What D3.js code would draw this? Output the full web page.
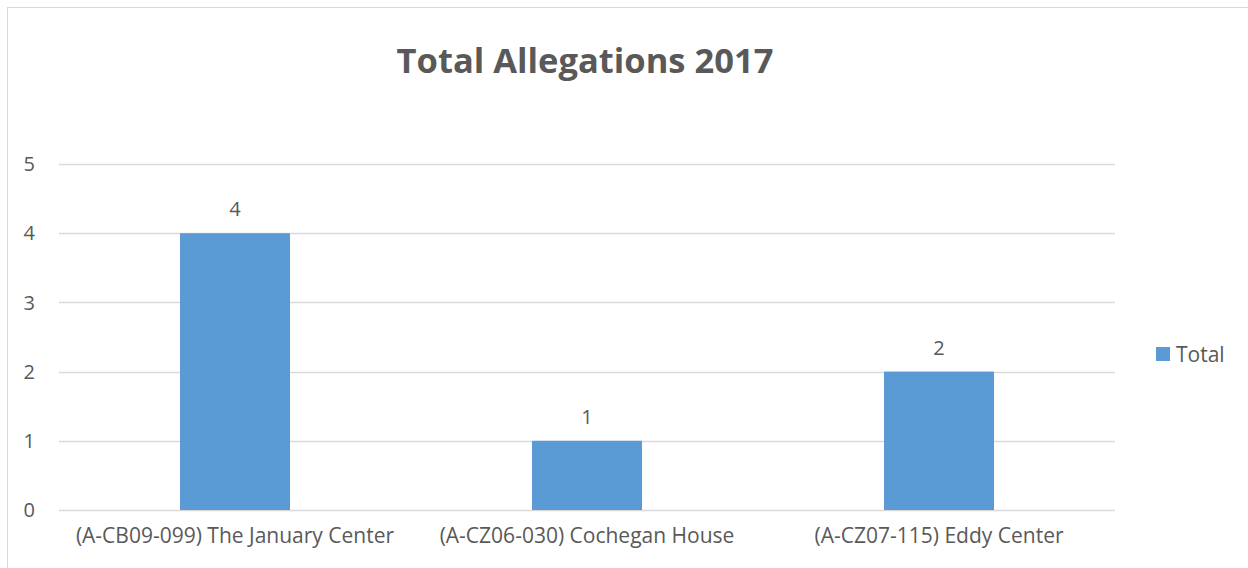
<!DOCTYPE html>
<html>
<head>
<meta charset="utf-8">
<script src="https://cdn.jsdelivr.net/npm/d3@7"></script>
<style>
  html, body { margin: 0; padding: 0; background: #fff; }
  svg { display: block; font-family: "Open Sans", sans-serif; }
</style>
</head>
<body>
<svg id="chart" width="1248" height="568"></svg>
<script>
const categories = [
  "(A-CB09-099) The January Center",
  "(A-CZ06-030) Cochegan House",
  "(A-CZ07-115) Eddy Center",
];
const totals = [4, 1, 2];
const yTicks = [0, 1, 2, 3, 4, 5];
const seriesName = "Total";
const chartTitle = "Total Allegations 2017";

const barColor = "#5b9bd5";
const textColor = "#595959";
const gridColor = "#d9d9d9";

const svg = d3.select("#chart");
const margin = { top: 164, right: 133, bottom: 58, left: 59 };
const width = 1248 - margin.left - margin.right;
const height = 568 - margin.top - margin.bottom;

// chart frame (only top/left edges visible in the crop)
svg.append("rect")
  .attr("x", 7.5).attr("y", 7.5)
  .attr("width", 1260).attr("height", 580)
  .attr("fill", "none")
  .attr("stroke", gridColor)
  .attr("stroke-width", 1);

svg.append("text")
  .attr("x", 585)
  .attr("y", 73)
  .attr("text-anchor", "middle")
  .attr("font-size", "34.5px")
  .attr("font-weight", "bold")
  .attr("fill", textColor)
  .text(chartTitle);

const g = svg.append("g")
  .attr("transform", `translate(${margin.left},${margin.top})`);

const x = d3.scaleBand().domain(categories).range([0, width]).padding(0);
const y = d3.scaleLinear().domain([0, 5]).range([height, 0]);
const barW = x.bandwidth() * 0.3125;

// gridlines
g.selectAll("line.grid")
  .data(yTicks)
  .enter()
  .append("line")
  .attr("class", "grid")
  .attr("x1", 0)
  .attr("x2", width)
  .attr("y1", (d) => Math.round(y(d)) + 0.5)
  .attr("y2", (d) => Math.round(y(d)) + 0.5)
  .attr("stroke", gridColor)
  .attr("stroke-width", 1.5);

// y tick labels
g.selectAll("text.ytick")
  .data(yTicks)
  .enter()
  .append("text")
  .attr("class", "ytick")
  .attr("x", -24)
  .attr("y", (d) => y(d))
  .attr("dy", "0.36em")
  .attr("text-anchor", "end")
  .attr("font-size", "20px")
  .attr("fill", textColor)
  .text((d) => d);

// bars
g.selectAll("rect.bar")
  .data(totals)
  .enter()
  .append("rect")
  .attr("class", "bar")
  .attr("x", (d, i) => x(categories[i]) + (x.bandwidth() - barW) / 2)
  .attr("y", (d) => y(d))
  .attr("width", barW)
  .attr("height", (d) => y(0) - y(d))
  .attr("fill", barColor);

// data labels
g.selectAll("text.value")
  .data(totals)
  .enter()
  .append("text")
  .attr("class", "value")
  .attr("x", (d, i) => x(categories[i]) + x.bandwidth() / 2)
  .attr("y", (d) => y(d) - 17)
  .attr("text-anchor", "middle")
  .attr("font-size", "20px")
  .attr("fill", textColor)
  .text((d) => d);

// category labels
g.selectAll("text.cat")
  .data(categories)
  .enter()
  .append("text")
  .attr("class", "cat")
  .attr("x", (d) => x(d) + x.bandwidth() / 2)
  .attr("y", height + 33)
  .attr("text-anchor", "middle")
  .attr("font-size", "21px")
  .attr("fill", textColor)
  .text((d) => d);

// legend
const legend = svg.append("g").attr("transform", "translate(1156,347)");
legend.append("rect")
  .attr("width", 14).attr("height", 14)
  .attr("fill", barColor);
legend.append("text")
  .attr("x", 20)
  .attr("y", 15)
  .attr("font-size", "21px")
  .attr("fill", textColor)
  .text(seriesName);
</script>
</body>
</html>
